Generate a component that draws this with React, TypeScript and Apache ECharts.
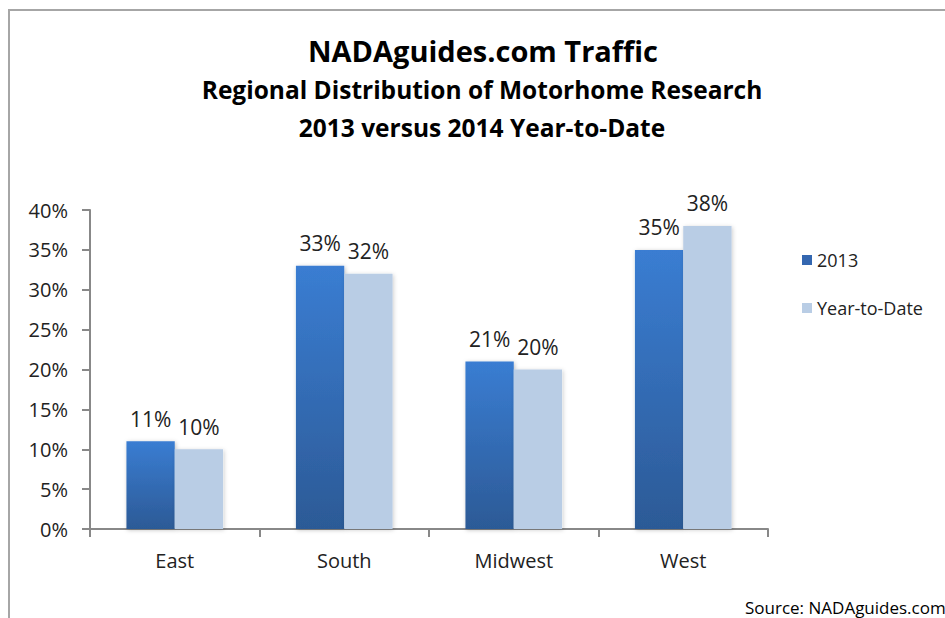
import React, { useEffect, useRef } from "react";
import * as echarts from "echarts";

const categories = ["East", "South", "Midwest", "West"];
const series2013 = [11, 33, 21, 35];
const seriesYTD = [10, 32, 20, 38];
const seriesNames = ["2013", "Year-to-Date"];
const titleLines = [
  "NADAguides.com Traffic",
  "Regional Distribution of Motorhome Research",
  "2013 versus 2014 Year-to-Date",
];
const sourceText = "Source: NADAguides.com";

const FONT = "'Open Sans', 'Noto Sans', sans-serif";

export default function App() {
  const ref = useRef<HTMLDivElement>(null);
  useEffect(() => {
    if (!ref.current) return;
    const chart = echarts.init(ref.current, null, { renderer: "svg" });
    chart.setOption({
      animation: false,
      backgroundColor: "#ffffff",
      textStyle: { fontFamily: FONT },
      grid: { left: 90, right: 177, top: 210, bottom: 89, containLabel: false },
      graphic: [
        {
          type: "rect",
          shape: { x: 9, y: 10, width: 1000, height: 700 },
          style: { fill: "none", stroke: "#a6a6a6", lineWidth: 2 },
          silent: true,
        },
        {
          type: "text",
          x: 483,
          y: 50,
          style: {
            text: titleLines[0],
            font: `bold 29px ${FONT}`,
            fill: "#000",
            align: "center",
            verticalAlign: "middle",
          },
        },
        {
          type: "text",
          x: 482,
          y: 89,
          style: {
            text: titleLines[1],
            font: `bold 24.5px ${FONT}`,
            fill: "#000",
            align: "center",
            verticalAlign: "middle",
          },
        },
        {
          type: "text",
          x: 482,
          y: 127,
          style: {
            text: titleLines[2],
            font: `bold 24.5px ${FONT}`,
            fill: "#000",
            align: "center",
            verticalAlign: "middle",
          },
        },
        {
          type: "text",
          x: 745,
          y: 607,
          style: {
            text: sourceText,
            font: `17px ${FONT}`,
            fill: "#000",
            align: "left",
            verticalAlign: "middle",
          },
        },
      ],
      legend: {
        orient: "vertical",
        left: 797,
        top: 246,
        itemWidth: 10,
        itemHeight: 10,
        itemGap: 30,
        icon: "rect",
        data: [
          { name: seriesNames[0], itemStyle: { color: "#3467b0" } },
          { name: seriesNames[1], itemStyle: { color: "#b9cde5" } },
        ],
        textStyle: { fontSize: 18, color: "#222", fontFamily: FONT },
      },
      xAxis: {
        type: "category",
        data: categories,
        axisLine: { lineStyle: { color: "#888", width: 2 } },
        axisTick: { show: true, length: 8, alignWithLabel: false, lineStyle: { color: "#888", width: 2 } },
        axisLabel: { fontSize: 20, color: "#222", margin: 21, fontFamily: FONT },
        splitLine: { show: false },
      },
      yAxis: {
        type: "value",
        min: 0,
        max: 40,
        interval: 5,
        axisLine: { show: true, lineStyle: { color: "#888", width: 2 } },
        axisTick: { show: true, length: 8, lineStyle: { color: "#888", width: 2 } },
        axisLabel: { fontSize: 20, color: "#222", margin: 22, formatter: "{value}%", fontFamily: FONT },
        splitLine: { show: false },
      },
      series: [
        {
          name: seriesNames[0],
          type: "bar",
          data: series2013,
          barGap: "0%",
          barCategoryGap: "43%",
          itemStyle: {
            color: new echarts.graphic.LinearGradient(0, 0, 0, 1, [
              { offset: 0, color: "#3a7dd2" },
              { offset: 1, color: "#2c5a96" },
            ]),
            shadowColor: "rgba(0,0,0,0.25)",
            shadowBlur: 4,
            shadowOffsetX: 1,
            shadowOffsetY: 1,
          },
          label: {
            show: true,
            position: "top",
            distance: 12,
            formatter: "{c}%",
            fontSize: 21,
            color: "#222",
            fontFamily: FONT,
          },
        },
        {
          name: seriesNames[1],
          type: "bar",
          data: seriesYTD,
          itemStyle: {
            color: "#b9cde5",
            shadowColor: "rgba(0,0,0,0.2)",
            shadowBlur: 4,
            shadowOffsetX: 1,
            shadowOffsetY: 1,
          },
          label: {
            show: true,
            position: "top",
            distance: 12,
            formatter: "{c}%",
            fontSize: 21,
            color: "#222",
            fontFamily: FONT,
          },
        },
      ],
    });
    return () => chart.dispose();
  }, []);
  return (
    <div
      ref={ref}
      style={{ position: "absolute", left: 0, top: 0, width: 945, height: 618 }}
    />
  );
}
